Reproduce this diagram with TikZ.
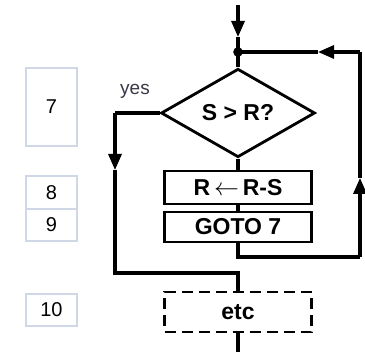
\documentclass[tikz,border=0pt]{standalone}
\usepackage{fontspec}
\setmainfont{Liberation Sans}
\usetikzlibrary{shapes.geometric,arrows.meta}
\definecolor{numcol}{RGB}{208,216,232}
\definecolor{yescol}{RGB}{55,55,70}
\begin{document}
\begin{tikzpicture}[x=1pt,y=-1pt, line width=3.1pt,
  flow/.style={draw, line width=2.8pt, minimum width=147pt, inner sep=0pt,
    font=\fontsize{23}{25}\selectfont\bfseries},
  numbox/.style={draw=numcol, line width=1.6pt, inner sep=0pt, minimum width=51pt,
    font=\fontsize{20}{22}\selectfont},
  tip/.style={-{Triangle[width=13pt,length=16pt]}}]
\useasboundingbox (0,0) rectangle (365,352);

% line number boxes
\node[numbox, minimum height=78pt] (n7) at (51.5,107) {7};
\node[numbox, minimum height=33pt] (n8) at (51.5,192.5) {8};
\node[numbox, minimum height=32pt] (n9) at (51.5,225) {9};
\node[numbox, minimum height=32pt] (n10) at (51.5,310) {10};

% flowchart nodes
\node[flow, diamond, minimum width=154pt, minimum height=87pt] (dia) at (238,113) {S > R?};
\node[flow, minimum height=33pt] (rb) at (238,187.5) {R\,$\leftarrow$\,R-S};
\node[flow, minimum height=30pt] (gb) at (238,227) {GOTO 7};
\node[flow, dash pattern=on 11pt off 6pt, minimum height=40pt] (eb) at (238,312) {etc};
\node[font=\fontsize{19}{21}\selectfont, text=yescol] (yes) at (135,91) {yes};

% coordinates
\coordinate (top) at (238,5);
\coordinate (a1) at (238,37);
\coordinate (j) at (238,52);
\coordinate (yc) at (115,113);
\coordinate (a2) at (115,170);
\coordinate (yb) at (115,273);
\coordinate (ym) at (238,273);
\coordinate (lb) at (238,257);
\coordinate (rc) at (360,257);
\coordinate (a3) at (360,178);
\coordinate (rt) at (360,52);
\coordinate (a4) at (318,52);
\coordinate (bot) at (238,352);

% connectors
\draw[tip] (top) -- (a1);
\draw (a1) -- (j) -- (dia.north);
\fill (j) circle (4.8pt);
\draw (dia.south) -- (rb.north);
\draw (rb.south) -- (gb.north);
\draw (gb.south) -- (lb) -- (rc);
\draw[tip] (rc) -- (a3);
\draw (a3) -- (rt);
\draw[tip] (rt) -- (a4);
\draw (a4) -- (j);
\draw (dia.west) -- (yc);
\draw[tip] (yc) -- (a2);
\draw (a2) -- (yb) -- (ym) -- (eb.north);
\draw (eb.south) -- (bot);
\end{tikzpicture}
\end{document}
